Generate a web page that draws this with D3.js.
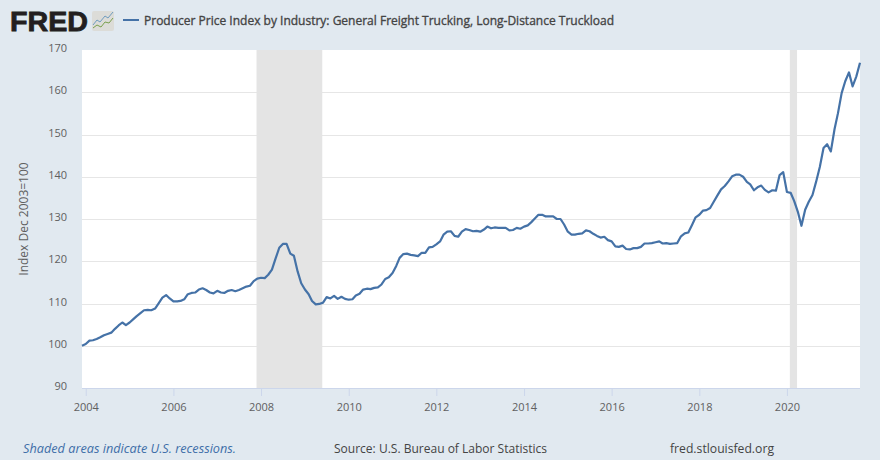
<!DOCTYPE html>
<html><head><meta charset="utf-8">
<script src="https://cdn.jsdelivr.net/npm/d3@7"></script>
<style>html,body{margin:0;padding:0;background:#e1e9f0}svg{display:block}text{font-family:"Open Sans",sans-serif}</style>
</head><body><svg id="c" width="880" height="460"></svg>
<script>
const startDate = "2003-12-01";
const values2003 = [100.0];
const values2004 = [100.4,101.2,101.3,101.6,102.0,102.5,102.8,103.1,104.0,104.8,105.5,104.9];
const values2005 = [105.5,106.3,107.0,107.7,108.4,108.5,108.4,108.8,110.1,111.4,112.0,111.2];
const values2006 = [110.5,110.5,110.6,111.0,112.2,112.5,112.6,113.3,113.6,113.2,112.6,112.4];
const values2007 = [113.0,112.6,112.5,113.0,113.2,112.9,113.2,113.6,114.0,114.2,115.3,115.9];
const values2008 = [116.1,116.0,116.8,118.0,120.6,123.2,124.1,124.1,121.8,121.3,117.6,114.8];
const values2009 = [113.3,112.2,110.6,109.8,109.9,110.2,111.5,111.2,111.8,111.1,111.6,111.1];
const values2010 = [110.9,111.0,111.9,112.3,113.3,113.5,113.4,113.7,113.8,114.5,115.8,116.2];
const values2011 = [117.2,118.9,120.8,121.7,121.8,121.5,121.4,121.2,122.0,122.0,123.3,123.4];
const values2012 = [124.0,124.7,126.3,127.0,127.1,126.0,125.8,127.0,127.6,127.4,127.1,127.2];
const values2013 = [127.0,127.5,128.2,127.8,128.0,127.9,127.9,127.9,127.3,127.4,127.9,127.7];
const values2014 = [128.2,128.5,129.2,130.1,131.0,131.0,130.6,130.6,130.6,130.0,130.0,128.7];
const values2015 = [127.0,126.3,126.3,126.5,126.6,127.3,127.1,126.5,126.0,125.6,125.8,125.0];
const values2016 = [124.7,123.5,123.4,123.7,122.9,122.8,123.1,123.1,123.4,124.2,124.2,124.3];
const values2017 = [124.5,124.7,124.2,124.3,124.1,124.2,124.3,125.9,126.6,126.8,128.6,130.4];
const values2018 = [131.0,132.0,132.1,132.6,134.1,135.6,137.0,137.8,138.9,140.1,140.5,140.5];
const values2019 = [140.0,138.8,138.2,136.8,137.5,137.9,136.9,136.3,136.8,136.7,140.4,141.1];
const values2020 = [136.4,136.2,134.3,131.7,128.4,132.2,134.1,135.7,138.9,142.3,146.8,147.7];
const values2021 = [146.0,151.3,155.0,159.8,162.6,164.7,161.4,163.7,167.0];
const yTicks = [90,100,110,120,130,140,150,160,170];
const xTickYears = [2004,2006,2008,2010,2012,2014,2016,2018,2020];
const recessions = [["2007-12-01","2009-06-01"],["2020-02-01","2020-04-01"]];
const titleText = "Producer Price Index by Industry: General Freight Trucking, Long-Distance Truckload";
const yLabel = "Index Dec 2003=100";

const series = [].concat(values2003,values2004,values2005,values2006,values2007,values2008,values2009,values2010,values2011,values2012,values2013,values2014,values2015,values2016,values2017,values2018,values2019,values2020,values2021);
const parse = d3.utcParse("%Y-%m-%d");
const start = parse(startDate);
const data = series.map((v,i)=>({date:d3.utcMonth.offset(start,i),value:v}));

const L=82,R=860,T=50,B=388;
const x = d3.scaleUtc().domain([start,data[data.length-1].date]).range([L,R]);
const y = d3.scaleLinear().domain([90,170]).range([B,T]);
const svg = d3.select("#c");
svg.append("rect").attr("width",880).attr("height",460).attr("fill","#e1e9f0");
svg.append("rect").attr("x",L).attr("y",T).attr("width",R-L).attr("height",B-T).attr("fill","#fff");

svg.append("g").selectAll("line").data(yTicks.slice(1,-1)).join("line")
  .attr("x1",L).attr("x2",R).attr("y1",d=>Math.round(y(d))+.5).attr("y2",d=>Math.round(y(d))+.5)
  .attr("stroke","#e6e6e6").attr("stroke-width",1);
svg.append("g").selectAll("rect").data(recessions).join("rect")
  .attr("x",d=>x(parse(d[0]))-0.8).attr("width",d=>x(parse(d[1]))-x(parse(d[0])))
  .attr("y",T).attr("height",B-T).attr("fill","#e4e4e4");

const xAxis = d3.axisBottom(x).tickValues(xTickYears.map(yr=>new Date(Date.UTC(yr,0,1)))).tickFormat(d3.utcFormat("%Y")).tickSize(8).tickPadding(7);
const gx = svg.append("g").attr("transform",`translate(0,${B})`).call(xAxis);
gx.select(".domain").attr("stroke","#ccd6eb").attr("d",`M${L},0.5H${R}`);
gx.selectAll(".tick line").attr("stroke","#ccd6eb");
gx.selectAll("text").attr("fill","#606060").style("font-size","11px").attr("font-family","Open Sans");

const yAxis = d3.axisLeft(y).tickValues(yTicks).tickSize(0).tickPadding(15);
const gy = svg.append("g").attr("transform",`translate(${L},0)`).call(yAxis);
gy.select(".domain").remove();
gy.selectAll("text").attr("fill","#606060").style("font-size","11px").attr("dy","0.15em");

const line = d3.line().x(d=>x(d.date)).y(d=>y(d.value));
svg.append("path").datum(data).attr("d",line).attr("fill","none").attr("stroke","#4572a7").attr("stroke-width",2.2).attr("stroke-linejoin","round");

svg.append("text").attr("transform","translate(28,219) rotate(-90)").attr("text-anchor","middle").attr("fill","#606060").style("font-size","12px").text(yLabel);

// header: logo + legend
svg.append("text").attr("x",10).attr("y",30.5).attr("fill","#231f20").style("font-family","'Liberation Sans'").style("font-weight","700").style("font-size","27px").attr("stroke","#231f20").attr("stroke-width",0.8).attr("textLength",78).attr("lengthAdjust","spacingAndGlyphs").text("FRED");
const logo = svg.append("g").attr("transform","translate(92,11)");
logo.append("rect").attr("width",22).attr("height",20).attr("rx",2).attr("fill","#dcdcd8");
logo.append("path").attr("d","M1,14L5,9L8,11L13,5L16,7L21,1").attr("fill","none").attr("stroke","#6f9cc0").attr("stroke-width",1);
logo.append("path").attr("d","M1,17L5,14L9,16L13,11L17,12L21,7").attr("fill","none").attr("stroke","#7aa04f").attr("stroke-width",1);
svg.append("line").attr("x1",123).attr("x2",139).attr("y1",20).attr("y2",20).attr("stroke","#4572a7").attr("stroke-width",2);
svg.append("text").attr("x",144).attr("y",25).attr("fill","#444").style("font-size","13px").style("font-weight","400").attr("stroke","#444").attr("stroke-width",0.35).attr("textLength",470).attr("lengthAdjust","spacingAndGlyphs").text(titleText);

// footer
svg.append("text").attr("x",23).attr("y",453).attr("fill","#3e6ea8").style("font-size","12px").style("font-style","italic").attr("textLength",213).attr("lengthAdjust","spacingAndGlyphs").text("Shaded areas indicate U.S. recessions.");
svg.append("text").attr("x",334).attr("y",453).attr("fill","#444").style("font-size","12px").attr("textLength",213).attr("lengthAdjust","spacingAndGlyphs").text("Source: U.S. Bureau of Labor Statistics");
svg.append("text").attr("x",670).attr("y",453).attr("fill","#444").style("font-size","12px").attr("textLength",104).attr("lengthAdjust","spacingAndGlyphs").text("fred.stlouisfed.org");
</script></body></html>
